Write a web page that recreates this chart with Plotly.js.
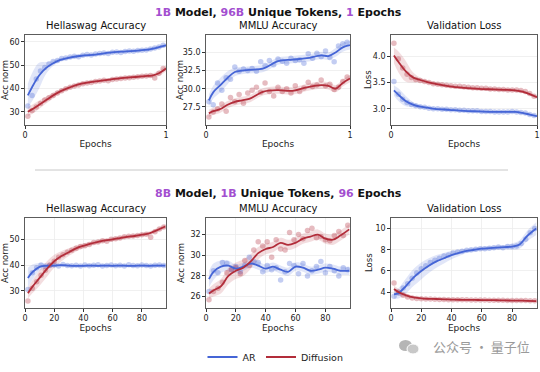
<!DOCTYPE html>
<html><head><meta charset="utf-8">
<script src="https://cdn.plot.ly/plotly-3.0.1.min.js"></script>
<style>html,body{margin:0;padding:0;background:#fff}#chart{width:540px;height:372px}</style>
</head><body><div id="chart"></div>
<script>
// ---------- Top row: 1B model, 96B unique tokens, 1 epoch ----------
const xTopPts = [0.02,0.05,0.08,0.11,0.14,0.17,0.20,0.23,0.26,0.29,0.32,0.35,0.38,0.41,0.44,0.47,0.50,0.53,0.56,0.59,0.62,0.65,0.68,0.71,0.74,0.77,0.80,0.83,0.86,0.89,0.92,0.95,0.98];
const xTopLine = [0.02,0.05,0.1,0.15,0.2,0.25,0.3,0.4,0.5,0.6,0.7,0.8,0.85,0.9,0.95,1.0];

const hsTopArPts = [32.5,37,44,47.5,49,50.5,51.5,52,52.8,53,53.5,53.8,53.6,54.2,54.5,54.3,54.8,55,55.2,55,55.5,55.6,55.4,55.8,56,55.9,56.2,56.4,56.5,56.9,57.3,57.8,58.5];
const hsTopDfPts = [28,30.5,32,33.5,35,36,37,38,39,39.8,40.5,41,41.5,42,42.3,42.5,43,43.2,43.5,43.3,43.8,44,44.2,44.5,44.6,44.8,45,45.2,45.3,45.5,44.5,46.5,48.5];
const hsTopArLine = [37,40.5,45.5,48.8,50.8,52.2,53,54,54.5,55.3,55.8,56.2,56.5,57,57.7,58.5];
const hsTopArBand = [5,6,5.5,2.5,1.2,0.8,0.6,0.5,0.5,0.5,0.5,0.5,0.5,0.6,0.6,0.7];
const hsTopDfLine = [30,31,33,35,37,38.7,40,42,43,43.8,44.5,45,45.3,45.5,46.5,48.5];
const hsTopDfBand = [2,2,1.8,1.5,1.2,1,0.8,0.7,0.6,0.6,0.6,0.6,0.7,0.9,1.2,1.3];

const mmTopArPts = [28.2,27.8,30.8,29.8,31.5,31.3,33.0,32.4,32.7,32.5,32.8,32.4,33.7,33.2,33.9,33.3,34.1,33.8,33.5,34.2,33.9,34.0,33.5,34.8,34.2,34.9,34.4,35.2,34.3,33.7,35.9,36.2,36.4];
const mmTopDfPts = [26.1,26.8,27.2,27.9,26.9,28.8,28.2,29.2,28.0,29.4,29.8,30.2,29.5,30.8,29.6,29.0,30.2,29.6,30.0,29.4,30.4,29.6,30.1,30.9,30.3,30.5,31.2,30.4,30.6,29.9,30.2,31.0,31.6];
const mmTopArLine = [28.4,29.5,30.5,31.5,32.3,32.5,32.6,32.8,33.8,34.0,34.2,34.6,34.5,35.0,35.7,36.0];
const mmTopArBand = [0.8,0.9,1.0,0.9,0.6,0.5,0.5,0.5,0.5,0.5,0.5,0.5,0.5,0.6,0.6,0.6];
const mmTopDfLine = [26.6,26.9,27.2,27.8,28.2,28.4,28.6,29.6,29.8,29.7,30.2,30.5,30.4,30.0,30.8,31.4];
const mmTopDfBand = [0.5,0.5,0.5,0.5,0.5,0.5,0.5,0.5,0.5,0.5,0.5,0.5,0.5,0.5,0.5,0.5];

const lsTopArPts = [3.52,3.28,3.18,3.12,3.08,3.06,3.04,3.03,3.01,3.00,3.00,2.99,2.99,2.98,2.98,2.97,2.97,2.96,2.96,2.96,2.95,2.95,2.95,2.94,2.94,2.94,2.94,2.95,2.94,2.93,2.92,2.89,2.87];
const lsTopDfPts = [4.25,3.95,3.78,3.66,3.6,3.56,3.54,3.52,3.5,3.48,3.47,3.46,3.45,3.44,3.43,3.43,3.42,3.41,3.40,3.40,3.39,3.39,3.38,3.38,3.37,3.37,3.36,3.36,3.36,3.35,3.33,3.29,3.24];
const lsTopArLine = [3.35,3.27,3.15,3.08,3.04,3.02,3.0,2.98,2.96,2.95,2.94,2.94,2.94,2.92,2.89,2.86];
const lsTopArBand = [0.1,0.12,0.1,0.05,0.03,0.02,0.02,0.02,0.02,0.02,0.02,0.02,0.02,0.02,0.02,0.02];
const lsTopDfLine = [4.02,3.9,3.72,3.6,3.55,3.51,3.48,3.43,3.4,3.38,3.37,3.36,3.35,3.33,3.28,3.22];
const lsTopDfBand = [0.15,0.2,0.2,0.1,0.05,0.03,0.03,0.03,0.03,0.03,0.03,0.03,0.03,0.03,0.03,0.03];

// ---------- Bottom row: 8B model, 1B unique tokens, 96 epochs ----------
const xBotPts = [2,5,8,11,14,17,20,23,26,29,32,35,38,41,44,47,50,53,56,59,62,65,68,71,74,77,80,83,86,89,92,95];
const xBotLine = [2,5,10,15,20,25,30,35,40,45,50,55,60,65,70,75,80,85,90,96];

const hsBotArPts = [30.5,37,39,40,39.5,39.8,40,39.6,40.2,39.8,39.7,39.9,39.6,40,39.7,39.9,40.1,39.6,39.8,40,39.7,39.9,39.6,40.1,39.8,39.7,40,39.8,39.6,39.9,40,39.8];
const hsBotDfPts = [26,31,33.5,36,38,40,41.5,43,44,45,45.8,46.5,47.2,47.5,48,48.8,49,49.5,49.3,50,50.2,50.5,51,51.2,51.3,51.5,51.8,52,50.8,53,54,54.8];
const hsBotArLine = [35,37.2,39.3,39.7,39.8,40,39.8,39.7,39.7,39.8,39.7,39.8,39.7,39.8,39.7,39.7,39.8,39.7,39.8,39.8];
const hsBotArBand = [4,3,1.5,0.8,0.5,0.5,0.5,0.5,0.5,0.5,0.5,0.5,0.5,0.5,0.5,0.5,0.5,0.5,0.5,0.5];
const hsBotDfLine = [29,31.5,35,38.5,41.5,43.5,45,46.5,47.5,48.3,49,49.6,50,50.5,51,51.3,51.8,52.3,53.5,55];
const hsBotDfBand = [2,2.5,3,3,2.5,2,1.5,1.2,1,0.8,0.8,0.7,0.7,0.7,0.7,0.7,0.7,0.8,0.8,0.8];

const mmBotArPts = [26.5,28.5,28.3,29.3,29.2,28.6,28.9,28.4,29.0,29.8,29.4,29.3,28.4,29.0,28.6,28.8,27.6,28.4,29.2,29.0,28.2,29.2,28.0,28.5,28.9,29.4,28.3,28.9,28.5,28.0,28.8,28.6];
const mmBotDfPts = [25.7,26.5,26.8,27.4,28.3,28.6,28.8,28.2,29.5,29.0,30.5,31.3,30.9,31.3,29.8,31.5,30.6,30.5,32.2,31.5,32.0,31.6,32.4,32.6,31.7,31.8,31.5,31.4,31.9,32.3,31.9,32.9];
const mmBotArLine = [27.7,28.4,28.9,29.0,28.7,28.9,29.2,29.0,28.7,28.9,28.6,28.4,28.9,28.8,28.5,28.6,28.8,28.7,28.5,28.5];
const mmBotArBand = [0.8,0.8,0.6,0.5,0.4,0.4,0.4,0.4,0.4,0.4,0.4,0.4,0.4,0.4,0.4,0.4,0.4,0.4,0.4,0.4];
const mmBotDfLine = [26.3,26.6,27.0,28.0,28.5,28.8,29.4,30.2,30.6,30.8,31.2,31.0,31.2,31.6,31.8,32.0,31.6,31.5,31.9,32.5];
const mmBotDfBand = [0.5,0.6,0.7,0.8,0.8,0.8,0.7,0.6,0.5,0.5,0.5,0.5,0.5,0.5,0.5,0.5,0.5,0.5,0.5,0.5];

const lsBotArPts = [3.6,3.9,4.4,4.8,5.3,5.8,6.2,6.5,6.8,7.0,7.2,7.4,7.5,7.7,7.8,7.85,7.95,8.0,8.05,8.1,8.1,8.15,8.2,8.25,8.2,8.3,8.3,8.35,8.6,9.0,9.6,10.0];
const lsBotDfPts = [4.85,4.0,3.7,3.55,3.45,3.4,3.38,3.35,3.34,3.32,3.3,3.3,3.29,3.28,3.28,3.27,3.27,3.26,3.26,3.25,3.25,3.24,3.24,3.23,3.23,3.22,3.22,3.21,3.2,3.2,3.19,3.18];
const lsBotArLine = [3.8,3.9,4.6,5.4,6.0,6.5,6.9,7.2,7.5,7.7,7.9,8.0,8.1,8.15,8.2,8.25,8.3,8.5,9.3,10.0];
const lsBotArBand = [0.4,0.5,0.7,0.8,0.8,0.7,0.6,0.5,0.4,0.3,0.2,0.2,0.2,0.2,0.2,0.2,0.3,0.4,0.5,0.6];
const lsBotDfLine = [4.3,4.0,3.7,3.5,3.4,3.37,3.35,3.32,3.3,3.28,3.27,3.26,3.25,3.24,3.23,3.22,3.2,3.19,3.18,3.15];
const lsBotDfBand = [0.3,0.3,0.2,0.1,0.06,0.05,0.05,0.05,0.05,0.05,0.05,0.05,0.05,0.05,0.05,0.05,0.05,0.05,0.05,0.05];

const panelTitles = ['Hellaswag Accuracy','MMLU Accuracy','Validation Loss'];
const yTitles = ['Acc norm','Acc norm','Loss'];
const seriesNames = ['AR','Diffusion'];

// ---------- styling ----------
const W = 540, H = 372;
const AR = '#4565d6', DF = '#b22d3a';
const AR_PT = 'rgba(69,101,214,0.32)', DF_PT = 'rgba(178,45,58,0.32)';
const AR_BD = 'rgba(69,101,214,0.16)', DF_BD = 'rgba(178,45,58,0.16)';
const FONT = 'DejaVu Sans, sans-serif';
const xPix = [[25,166],[206,350],[391,537]];
const yPix = [[35,125],[218,308]];
const yTitleX = [[5,180,368],[5,181,369]];
const dx = p => [p[0]/W, p[1]/W];
const dy = p => [1 - p[1]/H, 1 - p[0]/H];

const panels = [
  {row:0,col:0,x:xTopPts,xl:xTopLine,ap:hsTopArPts,dp:hsTopDfPts,al:hsTopArLine,ab:hsTopArBand,dl:hsTopDfLine,db:hsTopDfBand,yr:[24.3,62.9],yt:[30,40,50,60],yf:'d'},
  {row:0,col:1,x:xTopPts,xl:xTopLine,ap:mmTopArPts,dp:mmTopDfPts,al:mmTopArLine,ab:mmTopArBand,dl:mmTopDfLine,db:mmTopDfBand,yr:[25.0,37.4],yt:[27.5,30,32.5,35],yf:'.1f'},
  {row:0,col:2,x:xTopPts,xl:xTopLine,ap:lsTopArPts,dp:lsTopDfPts,al:lsTopArLine,ab:lsTopArBand,dl:lsTopDfLine,db:lsTopDfBand,yr:[2.69,4.41],yt:[3,3.5,4],yf:'.1f'},
  {row:1,col:0,x:xBotPts,xl:xBotLine,ap:hsBotArPts,dp:hsBotDfPts,al:hsBotArLine,ab:hsBotArBand,dl:hsBotDfLine,db:hsBotDfBand,yr:[23.3,58.3],yt:[30,40,50],yf:'d'},
  {row:1,col:1,x:xBotPts,xl:xBotLine,ap:mmBotArPts,dp:mmBotDfPts,al:mmBotArLine,ab:mmBotArBand,dl:mmBotDfLine,db:mmBotDfBand,yr:[24.9,33.6],yt:[26,28,30,32],yf:'d'},
  {row:1,col:2,x:xBotPts,xl:xBotLine,ap:lsBotArPts,dp:lsBotDfPts,al:lsBotArLine,ab:lsBotArBand,dl:lsBotDfLine,db:lsBotDfBand,yr:[2.5,11.0],yt:[4,6,8,10],yf:'d'},
];

const data = [];
const layout = {
  width: W, height: H, margin:{l:0,r:0,t:0,b:0},
  paper_bgcolor:'#fff', plot_bgcolor:'#fff',
  font:{family:FONT, size:8, color:'#222'},
  showlegend:true,
  legend:{orientation:'h', x:0.375, y:1-357/H, xanchor:'left', yanchor:'middle',
          font:{family:FONT,size:9.5,color:'#222'}, itemwidth:30, traceorder:'normal', bgcolor:'rgba(0,0,0,0)'},
  annotations:[], shapes:[]
};

panels.forEach((p,i)=>{
  const n = i+1, xa = 'x'+(n===1?'':n), ya = 'y'+(n===1?'':n);
  const lo = (l,b)=>l.map((v,k)=>v-b[k]);
  const hi = (l,b)=>l.map((v,k)=>v+b[k]);
  const base = {xaxis:xa, yaxis:ya, hoverinfo:'skip', showlegend:false};
  // bands
  data.push(Object.assign({}, base, {x:p.xl, y:lo(p.al,p.ab), mode:'lines', line:{width:0, shape:'spline', color:AR_BD}}));
  data.push(Object.assign({}, base, {x:p.xl, y:hi(p.al,p.ab), mode:'lines', line:{width:0, shape:'spline', color:AR_BD}, fill:'tonexty', fillcolor:AR_BD}));
  data.push(Object.assign({}, base, {x:p.xl, y:lo(p.dl,p.db), mode:'lines', line:{width:0, shape:'spline', color:DF_BD}}));
  data.push(Object.assign({}, base, {x:p.xl, y:hi(p.dl,p.db), mode:'lines', line:{width:0, shape:'spline', color:DF_BD}, fill:'tonexty', fillcolor:DF_BD}));
  // points
  data.push(Object.assign({}, base, {x:p.x, y:p.ap, mode:'markers', marker:{size:5.5, color:AR_PT}}));
  data.push(Object.assign({}, base, {x:p.x, y:p.dp, mode:'markers', marker:{size:5.5, color:DF_PT}}));
  // lines
  data.push(Object.assign({}, base, {x:p.xl, y:p.al, mode:'lines', line:{width:1.8, color:AR, shape:'spline'}, name:seriesNames[0], showlegend:i===0, legendgroup:'ar'}));
  data.push(Object.assign({}, base, {x:p.xl, y:p.dl, mode:'lines', line:{width:1.8, color:DF, shape:'spline'}, name:seriesNames[1], showlegend:i===0, legendgroup:'df'}));

  const xd = dx(xPix[p.col]), yd = dy(yPix[p.row]);
  const axCommon = {showline:true, mirror:true, linecolor:'#333', linewidth:0.8, ticks:'outside', ticklen:3, tickcolor:'#333',
                    showgrid:true, gridcolor:'#ececec', gridwidth:0.8, zeroline:false, tickfont:{family:FONT,size:8,color:'#222'}};
  layout['xaxis'+(n===1?'':n)] = Object.assign({}, axCommon, {
    domain:xd, anchor:ya,
    range: p.row===0 ? [0,1] : [0,96.5],
    tickvals: p.row===0 ? [0,1] : [0,20,40,60,80],
    title:{text:'Epochs', font:{family:FONT,size:9,color:'#222'}, standoff:1}
  });
  layout['yaxis'+(n===1?'':n)] = Object.assign({}, axCommon, {
    domain:yd, anchor:xa, range:p.yr, tickvals:p.yt, tickformat:p.yf
  });
  layout.annotations.push({xref:'paper', yref:'paper', x:(xd[0]+xd[1])/2, y:yd[1]+2/H, xanchor:'center', yanchor:'bottom',
    text:panelTitles[p.col], showarrow:false, font:{family:FONT,size:10,color:'#111'}});
  layout.annotations.push({xref:'paper', yref:'paper', x:yTitleX[p.row][p.col]/W, y:(yd[0]+yd[1])/2, xanchor:'center', yanchor:'middle',
    textangle:-90, text:yTitles[p.col], showarrow:false, borderpad:0, font:{family:FONT,size:8.5,color:'#222'}});
});

const PURPLE = '#a34fd0';
const pc = t => '<span style="color:'+PURPLE+'">'+t+'</span>';
layout.annotations.push({xref:'paper',yref:'paper',x:278/W,y:1-13/H,xanchor:'center',yanchor:'middle',showarrow:false,
  text:'<b>'+pc('1B')+' Model, '+pc('96B')+' Unique Tokens, '+pc('1')+' Epochs</b>', font:{family:FONT,size:11,color:'#111'}});
layout.annotations.push({xref:'paper',yref:'paper',x:278/W,y:1-193/H,xanchor:'center',yanchor:'middle',showarrow:false,
  text:'<b>'+pc('8B')+' Model, '+pc('1B')+' Unique Tokens, '+pc('96')+' Epochs</b>', font:{family:FONT,size:11,color:'#111'}});
// watermark
layout.annotations.push({xref:'paper',yref:'paper',x:532/W,y:1-346/H,xanchor:'right',yanchor:'middle',showarrow:false,
  text:'公众号 · 量子位', font:{family:'Noto Sans CJK SC, sans-serif',size:13,color:'#9a9a9a'}});
layout.shapes.push({type:'circle',xref:'paper',yref:'paper',x0:399/W,x1:412/W,y0:1-351/H,y1:1-340/H,fillcolor:'#b5b5b5',line:{width:0}});
layout.shapes.push({type:'circle',xref:'paper',yref:'paper',x0:407/W,x1:419/W,y0:1-354/H,y1:1-344/H,fillcolor:'#c8c8c8',line:{color:'#fff',width:1}});
// divider
layout.shapes.push({type:'line',xref:'paper',yref:'paper',x0:35/W,x1:508/W,y0:1-170/H,y1:1-170/H,line:{color:'#c8c8c8',width:1}});

Plotly.newPlot('chart', data, layout, {staticPlot:true, displayModeBar:false});
</script></body></html>
